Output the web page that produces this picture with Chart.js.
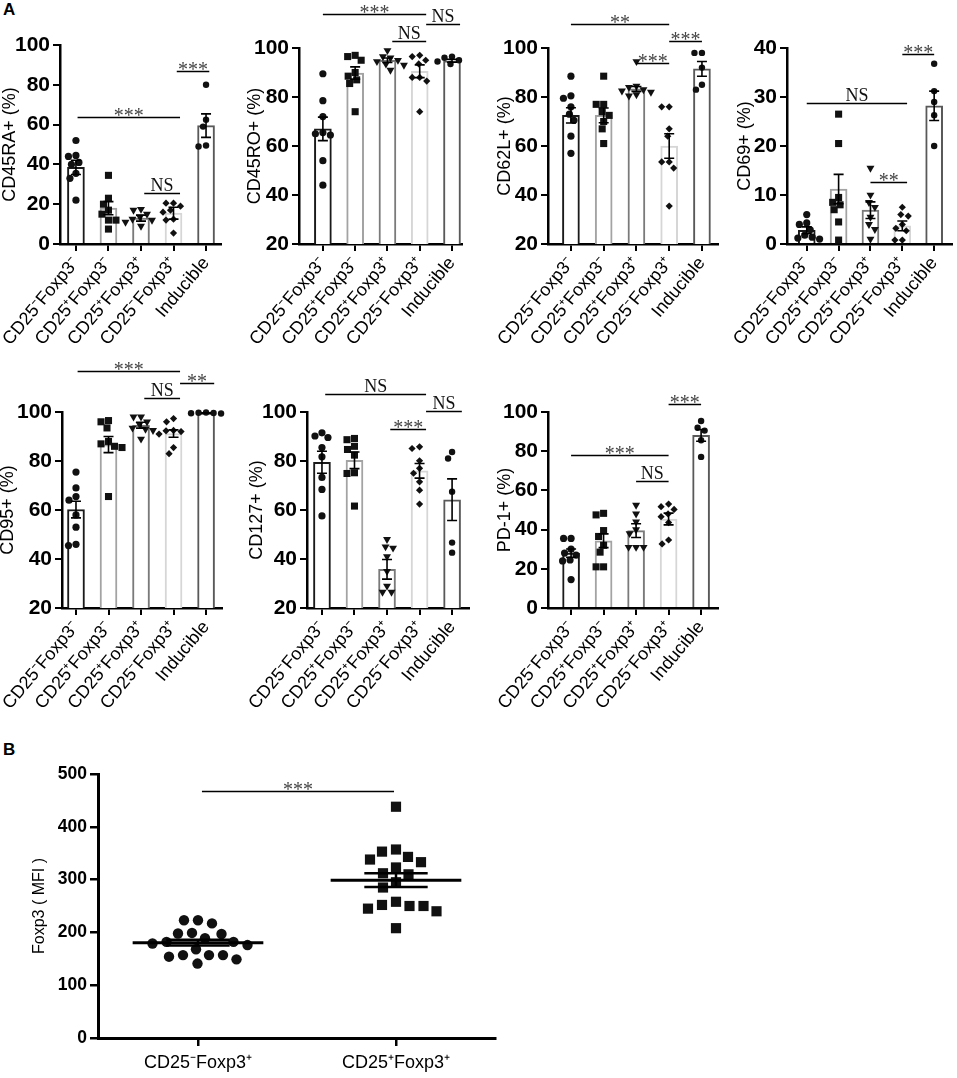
<!DOCTYPE html>
<html>
<head>
<meta charset="utf-8">
<script src="https://cdn.jsdelivr.net/npm/chart.js@4.4.1/dist/chart.umd.min.js"></script>
<style>
body { margin: 0; background: #fff; width: 957px; height: 1078px; position: relative; overflow: hidden; font-family: "Liberation Sans", Arial, sans-serif; }
canvas { position: absolute; }
.tag { position: absolute; font-weight: bold; font-size: 17px; color: #000; }
</style>
</head>
<body>
<div class="tag" style="left:3px;top:0px">A</div>
<div class="tag" style="left:3px;top:740px">B</div>
<script>
// groups shown on every panel of A
const groups = ['CD25⁻Foxp3⁻', 'CD25⁺Foxp3⁻', 'CD25⁺Foxp3⁺', 'CD25⁻Foxp3⁺', 'Inducible'];

// CD45RA+ (%)
const cd45raPoints = [[52, 44.5, 44, 41, 40, 35.5, 33, 22], [34.5, 23, 20, 17, 15, 12, 12, 7.5], [17.5, 17, 15, 13.5, 12.5, 11, 9, 12], [20.5, 20.5, 19, 17, 16, 12.5, 12, 5.5], [80, 62.5, 59, 49, 49.5]];
const cd45raMean = [38.5, 18, 13, 15.5, 59.5];
const cd45raSem = [3.6, 3.3, 1.5, 3, 5.9];
const cd45raTicks = [0, 20, 40, 60, 80, 100];

// CD45RO+ (%)
const cd45roPoints = [[89.5, 78.5, 72, 65.5, 65, 64.5, 54, 44], [97, 96.5, 95, 90, 88.5, 87, 85.5, 74], [99, 96.5, 96, 95, 94.5, 93.5, 93, 91], [97, 96.5, 95, 93.5, 88, 88, 86.5, 74], [96.5, 96, 95, 94.5, 93.5]];
const cd45roMean = [67, 89.8, 95, 90.5, 94.8];
const cd45roSem = [4.8, 2.5, 0.9, 2.6, 0.6];
const cd45roTicks = [20, 40, 60, 80, 100];

// CD62L+ (%)
const cd62lPoints = [[88.5, 80.5, 79.5, 76, 73, 70.5, 64, 57], [88.5, 77, 77, 74, 72.5, 70, 67, 61], [94.5, 84.5, 84, 83, 82.5, 82, 81, 80.5], [76, 76, 67, 64, 53.5, 53.5, 51, 35.5], [98, 98, 92, 85, 83]];
const cd62lMean = [72.5, 72.5, 83.3, 60, 91.5];
const cd62lSem = [3.1, 3, 1, 5, 3];
const cd62lTicks = [20, 40, 60, 80, 100];

// CD69+ (%)
const cd69Points = [[6, 4.3, 4, 2.9, 1.8, 1.4, 1.2, 1], [26.5, 20.5, 9.5, 8.5, 8, 7, 4.5, 0.8], [15.5, 10, 8.5, 7.5, 5.5, 4, 3, 1], [7.5, 6, 5.7, 4, 3.2, 2.7, 0.8, 0.8], [36.8, 31.2, 29, 26.3, 20]];
const cd69Mean = [2.8, 11.2, 6.9, 3.7, 28.2];
const cd69Sem = [0.7, 3, 1.7, 1, 3];
const cd69Ticks = [0, 10, 20, 30, 40];

// CD95+ (%)
const cd95Points = [[75.5, 69, 65.5, 64, 58, 53, 46, 45.5], [96.5, 96, 93.5, 88, 87, 86, 85.5, 65.5], [98, 98, 96, 95, 93.5, 93, 92.5, 89], [97.3, 96, 92.5, 92.3, 92, 91, 85.5, 83], [99.8, 99.6, 99.5, 99.4, 99.7]];
const cd95Mean = [60.2, 86.7, 94.6, 91.2, 99.6];
const cd95Sem = [3.4, 3.3, 1.2, 1.5, 0.1];
const cd95Ticks = [20, 40, 60, 80, 100];

// CD127+ (%)
const cd127Points = [[91.5, 90.2, 89.6, 85.5, 81.7, 73.3, 68.4, 57.6], [89.2, 88.7, 86, 84.7, 82.4, 75.2, 74.9, 61.6], [48, 45, 44.5, 41, 35, 29, 26.5, 26.5], [85.8, 85.1, 80.1, 77, 75, 71.5, 68.1, 62.4], [83.7, 81, 67.5, 46.7, 42.6]];
const cd127Mean = [79.5, 80.3, 35.8, 76, 64.2];
const cd127Sem = [4.5, 3.4, 4, 3, 8.5];
const cd127Ticks = [20, 40, 60, 80, 100];

// PD-1+ (%)
const pd1Points = [[35.5, 35.5, 30, 28, 27, 24.5, 24, 14.5], [48.3, 47.5, 39.5, 36.5, 32, 28.5, 21, 21], [52.5, 48, 44, 40, 38, 31, 31, 31], [53, 51.7, 50.3, 48, 46.6, 43.6, 34.7, 32.7], [95.4, 92, 90.5, 85.6, 77.1]];
const pd1Mean = [28, 34.3, 39.5, 45.4, 88.1];
const pd1Sem = [2.1, 3.5, 3.5, 3, 3];
const pd1Ticks = [0, 20, 40, 60, 80, 100];

// B: Foxp3 (MFI)
const foxpGroups = ['CD25⁻Foxp3⁺', 'CD25⁺Foxp3⁺'];
const foxpPoints = [[223, 217, 223, 199, 197, 198, 189, 182, 179, 176, 182, 168, 157, 154, 157, 157, 149, 141], [438, 357, 353, 343, 333, 338, 323, 310, 312, 295, 285, 258, 250, 245, 240, 250, 252, 208]];
const foxpMean = [180.5, 299];
const foxpSem = [5.5, 13];
const foxpTicks = [0, 100, 200, 300, 400, 500];

const barEdges = ['#1a1a1a', '#a3a3a3', '#7a7a7a', '#d6d6d6', '#595959'];
const shapes = ['circle', 'rect', 'triangle', 'rectRot', 'circle'];
const shapeRot = [0, 0, 180, 0, 0];
const shapeSize = [3.6, 5, 4.6, 3.6, 3.2];

// panel layout (page pixels) and significance brackets [from, to, y, text]
const panels = [
  { title: 'CD45RA+ (%)', pts: cd45raPoints, mean: cd45raMean, sem: cd45raSem, ticks: cd45raTicks,
    cx: -15, cy: 0, cw: 245, ch: 350, L: 60, R: 221, T: 45, B: 244, xmin: -0.49, xmax: 4.46, tx: 10,
    sig: [[3.1, 4.1, 87, '***'], [0.05, 3.2, 64, '***'], [2.1, 3.2, 25.8, 'NS']] },
  { title: 'CD45RO+ (%)', pts: cd45roPoints, mean: cd45roMean, sem: cd45roSem, ticks: cd45roTicks,
    cx: 225, cy: 0, cw: 245, ch: 350, L: 299, R: 462, T: 48, B: 244, xmin: -0.74, xmax: 4.31, tx: 255,
    sig: [[0, 3.2, 113.7, '***'], [2.15, 3.2, 102.9, 'NS'], [3.2, 4.25, 109.7, 'NS']] },
  { title: 'CD62L+ (%)', pts: cd62lPoints, mean: cd62lMean, sem: cd62lSem, ticks: cd62lTicks,
    cx: 470, cy: 0, cw: 255, ch: 350, L: 548, R: 718, T: 48, B: 244, xmin: -0.70, xmax: 4.49, tx: 505,
    sig: [[0, 3.0, 109.7, '**'], [2.0, 3.0, 93.9, '***'], [3.0, 4.0, 102.9, '***']] },
  { title: 'CD69+ (%)', pts: cd69Points, mean: cd69Mean, sem: cd69Sem, ticks: cd69Ticks,
    cx: 710, cy: 0, cw: 247, ch: 350, L: 787, R: 954, T: 48, B: 244, xmin: -0.62, xmax: 4.56, tx: 745,
    sig: [[3, 4, 38.8, '***'], [0, 3.15, 28.7, 'NS'], [2, 3.15, 12.7, '**']] },
  { title: 'CD95+ (%)', pts: cd95Points, mean: cd95Mean, sem: cd95Sem, ticks: cd95Ticks,
    cx: -15, cy: 340, cw: 245, ch: 380, L: 62, R: 222, T: 412, B: 608, xmin: -0.43, xmax: 4.49, tx: 8,
    sig: [[0.05, 3.2, 116.7, '***'], [2.1, 3.2, 105.8, 'NS'], [3.2, 4.25, 111.8, '**']] },
  { title: 'CD127+ (%)', pts: cd127Points, mean: cd127Mean, sem: cd127Sem, ticks: cd127Ticks,
    cx: 225, cy: 340, cw: 250, ch: 380, L: 307, R: 469, T: 412, B: 608, xmin: -0.46, xmax: 4.52, tx: 257,
    sig: [[0.1, 3.2, 107.5, 'NS'], [3.2, 4.3, 100.3, 'NS'], [2.1, 3.2, 93.2, '***']] },
  { title: 'PD-1+ (%)', pts: pd1Points, mean: pd1Mean, sem: pd1Sem, ticks: pd1Ticks,
    cx: 470, cy: 340, cw: 255, ch: 380, L: 548, R: 718, T: 412, B: 608, xmin: -0.71, xmax: 4.52, tx: 505,
    sig: [[3, 4, 104.2, '***'], [0, 3, 78, '***'], [2, 3, 65, 'NS']] }
];

const panelB = { title: 'Foxp3 ( MFI )', pts: foxpPoints, mean: foxpMean, sem: foxpSem, ticks: foxpTicks,
  cx: 0, cy: 740, cw: 520, ch: 338, L: 98, R: 495, T: 774, B: 1038, xmin: -0.505, xmax: 1.5, tx: 40,
  sig: [[0.02, 0.99, 467, '***']] };

// beeswarm: push points sideways until they stop overlapping
function swarm(vals, ppu, ppc, sep) {
  const off = vals.map(() => 0);
  const done = [];
  vals.map((v, i) => i).sort((a, b) => vals[b] - vals[a]).forEach(i => {
    const py = vals[i] * ppu;
    for (let s = 0; s < 400; s++) {
      const d = (s % 2 ? -1 : 1) * Math.ceil(s / 2) * 0.5;
      if (done.every(q => (q.x - d) ** 2 + (q.y - py) ** 2 >= sep * sep)) {
        off[i] = d / ppc;
        done.push({ x: d, y: py });
        break;
      }
    }
  });
  return off;
}

const marks = {
  id: 'marks',
  afterDatasetsDraw(chart, args, o) {
    const ctx = chart.ctx, x = chart.scales.x, y = chart.scales.y;
    ctx.save();
    ctx.strokeStyle = '#000';
    ctx.fillStyle = '#000';
    o.mean.forEach((m, i) => {
      const px = x.getPixelForValue(i);
      const y1 = y.getPixelForValue(m - o.sem[i]), y2 = y.getPixelForValue(m + o.sem[i]);
      ctx.lineWidth = o.errW;
      ctx.beginPath();
      ctx.moveTo(px, y1); ctx.lineTo(px, y2);
      ctx.moveTo(px - o.cap, y1); ctx.lineTo(px + o.cap, y1);
      ctx.moveTo(px - o.cap, y2); ctx.lineTo(px + o.cap, y2);
      ctx.stroke();
      if (o.meanHalf) {
        const ym = y.getPixelForValue(m);
        ctx.lineWidth = 3;
        ctx.beginPath();
        ctx.moveTo(x.getPixelForValue(i - o.meanHalf), ym);
        ctx.lineTo(x.getPixelForValue(i + o.meanHalf), ym);
        ctx.stroke();
      }
    });
    o.sig.forEach(([a, b, v, t]) => {
      const py = Math.round(y.getPixelForValue(v)) + 0.5;
      const xa = x.getPixelForValue(a), xb = x.getPixelForValue(b);
      ctx.lineWidth = 1.5;
      ctx.beginPath(); ctx.moveTo(xa, py); ctx.lineTo(xb, py); ctx.stroke();
      const star = t.indexOf('*') >= 0;
      ctx.font = star ? '20px "Liberation Serif"' : '18px "Liberation Serif"';
      ctx.fillStyle = star ? '#444' : '#111';
      ctx.textAlign = 'center';
      ctx.textBaseline = 'alphabetic';
      ctx.fillText(t, (xa + xb) / 2, star ? py + 4 : py - 3);
    });
    ctx.restore();
  }
};

function makeChart(P, isB) {
  const cv = document.createElement('canvas');
  cv.width = P.cw; cv.height = P.ch;
  cv.style.left = P.cx + 'px'; cv.style.top = P.cy + 'px';
  cv.style.width = P.cw + 'px'; cv.style.height = P.ch + 'px';
  document.body.appendChild(cv);

  const labels = isB ? foxpGroups : groups;
  const ymin = P.ticks[0], ymax = P.ticks[P.ticks.length - 1];
  const ppu = (P.B - P.T) / (ymax - ymin);
  const ppc = (P.R - P.L) / (P.xmax - P.xmin);
  const titleSize = isB ? 16 : 18;

  const datasets = [];
  if (!isB) {
    datasets.push({
      type: 'bar',
      data: P.mean.map((m, i) => ({ x: i, y: m })),
      backgroundColor: '#fff',
      borderColor: barEdges,
      borderWidth: 2,
      barThickness: 17,
      order: 10
    });
  }
  P.pts.forEach((vals, g) => {
    const off = swarm(vals, ppu, ppc, isB ? 14 : 7.5);
    datasets.push({
      type: 'scatter',
      data: vals.map((v, j) => ({ x: g + off[j], y: v })),
      pointStyle: isB ? (g ? 'rect' : 'circle') : shapes[g],
      pointRotation: isB ? 0 : shapeRot[g],
      pointRadius: isB ? (g ? 7.2 : 5.2) : shapeSize[g],
      pointBackgroundColor: '#111',
      pointBorderColor: '#111',
      pointBorderWidth: 0,
      clip: false,
      order: 1
    });
  });

  new Chart(cv, {
    type: 'bar',
    data: { datasets },
    options: {
      responsive: false,
      animation: false,
      events: [],
      layout: { padding: { left: 0, top: P.T - P.cy, right: P.cx + P.cw - P.R, bottom: 0 } },
      plugins: {
        legend: { display: false },
        tooltip: { enabled: false },
        marks: { mean: P.mean, sem: P.sem, sig: P.sig, cap: isB ? 0.16 * ppc : 5, errW: isB ? 2.5 : 1.6, meanHalf: isB ? 0.33 : 0 }
      },
      scales: {
        x: {
          type: 'linear',
          offset: false,
          min: P.xmin, max: P.xmax,
          afterBuildTicks: s => { s.ticks = labels.map((l, i) => ({ value: i })); },
          afterFit: s => { s.height = P.cy + P.ch - P.B; s.paddingLeft = 0; s.paddingRight = 0; },
          grid: { offset: false, drawOnChartArea: false, color: '#000', lineWidth: isB ? 2.5 : 2, tickLength: isB ? 8 : 7 },
          border: { color: '#000', width: isB ? 3 : 2.5 },
          ticks: {
            callback: v => labels[v],
            autoSkip: false,
            maxRotation: isB ? 0 : 50, minRotation: isB ? 0 : 50,
            padding: isB ? 6 : 2,
            color: '#000',
            font: { family: 'Liberation Sans', size: 18 }
          }
        },
        y: {
          min: ymin, max: ymax,
          afterBuildTicks: s => { s.ticks = P.ticks.map(v => ({ value: v })); },
          afterFit: s => { s.width = P.L - P.cx; s.paddingTop = 0; s.paddingBottom = 0; },
          grid: { drawOnChartArea: false, color: '#000', lineWidth: isB ? 2.5 : 2, tickLength: isB ? 8 : 7 },
          border: { color: '#000', width: isB ? 3 : 2.5 },
          ticks: { color: '#000', padding: 3, font: { family: 'Liberation Sans', size: isB ? 17.5 : 21, weight: 'bold' } },
          title: {
            display: true, text: P.title, color: '#000',
            font: { family: 'Liberation Sans', size: titleSize },
            padding: { top: P.tx - P.cx - titleSize * 0.6, bottom: 0 }
          }
        }
      }
    },
    plugins: [marks]
  });
}

panels.forEach(P => makeChart(P, false));
makeChart(panelB, true);
</script>
</body>
</html>
